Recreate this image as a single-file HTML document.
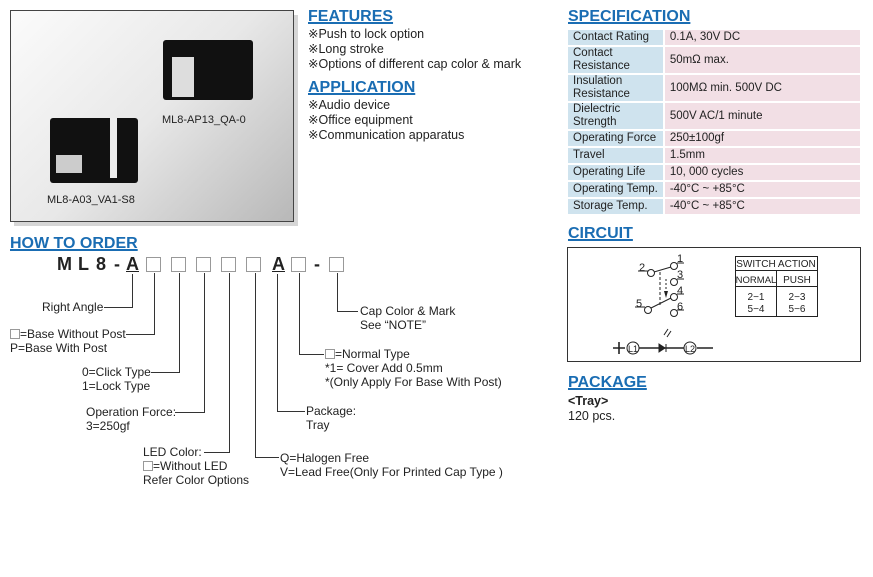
<!DOCTYPE html>
<html><head><meta charset="utf-8"><style>
*{margin:0;padding:0;box-sizing:border-box}
body{width:873px;height:577px;background:#fff;position:relative;font-family:"Liberation Sans",sans-serif;color:#222;overflow:hidden}
.a{position:absolute;white-space:nowrap}
.h{font-weight:bold;font-size:16px;color:#1a6db3;text-decoration:underline;text-decoration-thickness:2px;text-underline-offset:1px}
.t{font-size:12.5px;line-height:15px}
.s{font-size:12px;line-height:14px}
.bx{position:absolute;width:15px;height:15px;border:1px solid #999;background:#fff}
.sb{display:inline-block;width:10px;height:10px;border:1px solid #999;vertical-align:-1px}
.ln{position:absolute;background:#333}
.pn{position:absolute;top:254px;font-size:18px;font-weight:bold}
table{border-collapse:separate;border-spacing:0 2px;font-size:11.5px}
td{padding:0 5px;line-height:13px}
td.l{background:#cfe3ee;width:96px;border-right:2px solid #fff}
td.v{background:#f2dfe5;width:195px}
</style></head><body>
<div class="a" style="left:14px;top:15px;width:284px;height:211px;background:#d6d6d6"></div>
<div class="a" style="left:10px;top:10px;width:284px;height:212px;border:1px solid #444;background:linear-gradient(135deg,#fbfbfb 0%,#e8e8e8 50%,#b8b8b8 100%)"></div>
<div class="a" style="left:163px;top:40px;width:90px;height:60px;background:#111;border-radius:3px"></div>
<div class="a" style="left:172px;top:57px;width:22px;height:40px;background:#ddd"></div>
<div class="a" style="left:50px;top:118px;width:88px;height:65px;background:#111;border-radius:3px"></div>
<div class="a" style="left:56px;top:155px;width:26px;height:18px;background:#ccc"></div>
<div class="a" style="left:110px;top:118px;width:7px;height:60px;background:#eee"></div>
<div class="a s" style="left:162px;top:113px;font-size:11px">ML8-AP13_QA-0</div>
<div class="a s" style="left:47px;top:193px;font-size:11px">ML8-A03_VA1-S8</div>

<div class="a h" style="left:308px;top:8px">FEATURES</div>
<div class="a t" style="left:308px;top:27px">※Push to lock option<br>※Long stroke<br>※Options of different cap color &amp; mark</div>
<div class="a h" style="left:308px;top:79px">APPLICATION</div>
<div class="a t" style="left:308px;top:98px">※Audio device<br>※Office equipment<br>※Communication apparatus</div>

<div class="a h" style="left:568px;top:8px">SPECIFICATION</div>
<table class="a" style="left:568px;top:28px">
<tr style="height:15px"><td class="l">Contact Rating</td><td class="v">0.1A, 30V DC</td></tr>
<tr style="height:26px"><td class="l">Contact<br>Resistance</td><td class="v">50mΩ max.</td></tr>
<tr style="height:26px"><td class="l">Insulation<br>Resistance</td><td class="v">100MΩ min. 500V DC</td></tr>
<tr style="height:26px"><td class="l">Dielectric<br>Strength</td><td class="v">500V AC/1 minute</td></tr>
<tr style="height:15px"><td class="l">Operating Force</td><td class="v">250±100gf</td></tr>
<tr style="height:15px"><td class="l">Travel</td><td class="v">1.5mm</td></tr>
<tr style="height:15px"><td class="l">Operating Life</td><td class="v">10, 000 cycles</td></tr>
<tr style="height:15px"><td class="l">Operating Temp.</td><td class="v">-40°C ~ +85°C</td></tr>
<tr style="height:15px"><td class="l">Storage Temp.</td><td class="v">-40°C ~ +85°C</td></tr>
</table>

<div class="a h" style="left:568px;top:225px">CIRCUIT</div>
<svg class="a" style="left:567px;top:247px" width="294" height="115" font-family="Liberation Sans" font-size="11">
<rect x="0.5" y="0.5" width="293" height="114" fill="#fff" stroke="#333"/>
<g fill="#fff" stroke="#222" stroke-width="1">
<circle cx="84" cy="26" r="3.5"/><circle cx="107" cy="19" r="3.5"/><circle cx="107" cy="35" r="3.5"/>
<circle cx="81" cy="63" r="3.5"/><circle cx="107" cy="50" r="3.5"/><circle cx="107" cy="66" r="3.5"/>
<circle cx="66" cy="101" r="6"/><circle cx="123" cy="101" r="6"/>
</g>
<g stroke="#222" fill="none">
<path d="M87 25 L104 20 M84 61 L104 51 M71 24 H81 M68 60 H78 M110 16 H117 M110 32 H117 M110 47 H117 M110 63 H117"/>
<path d="M93 25 V60" stroke-dasharray="3,2"/>
<path d="M99 32 V45" stroke-dasharray="2,2"/>
<path d="M46 101 H58 M52 95 V107 M72 101 H117 M130 101 H146" stroke-width="1.6"/>
<path d="M97 88 L101 82 M100 90 L104 84"/>
</g>
<path d="M97 44 L99 51 L101 44 Z" fill="#222"/>
<path d="M92 97 V105 L98 101 Z M99 97 V105" fill="#222" stroke="#222"/>
<g fill="#222"><text x="72" y="24">2</text><text x="69" y="60">5</text><text x="110" y="15">1</text><text x="110" y="31">3</text><text x="110" y="47">4</text><text x="110" y="63">6</text>
<text x="61" y="105" font-size="9">L1</text><text x="118" y="105" font-size="9">L2</text></g>
<g stroke="#222" fill="none"><rect x="168.5" y="9.5" width="82" height="60"/><path d="M168.5 23.5 H250.5 M168.5 39.5 H250.5 M209.5 23.5 V69.5"/></g>
<g fill="#222" font-size="10" text-anchor="middle"><text x="209" y="20">SWITCH ACTION</text><text x="189" y="36" font-size="9.5">NORMAL</text><text x="230" y="36">PUSH</text>
<text x="189" y="53">2−1</text><text x="189" y="65">5−4</text><text x="230" y="53">2−3</text><text x="230" y="65">5−6</text></g>
</svg>

<div class="a h" style="left:568px;top:374px">PACKAGE</div>
<div class="a t" style="left:568px;top:394px"><b>&lt;Tray&gt;</b><br>120 pcs.</div>

<div class="a h" style="left:10px;top:235px">HOW TO ORDER</div>
<div class="pn" style="left:57px">M</div>
<div class="pn" style="left:78px">L</div>
<div class="pn" style="left:96px">8</div>
<div class="pn" style="left:114px">-</div>
<div class="pn" style="left:126px;text-decoration:underline">A</div>
<div class="bx" style="left:146px;top:257px"></div>
<div class="bx" style="left:171px;top:257px"></div>
<div class="bx" style="left:196px;top:257px"></div>
<div class="bx" style="left:221px;top:257px"></div>
<div class="bx" style="left:246px;top:257px"></div>
<div class="pn" style="left:272px;text-decoration:underline">A</div>
<div class="bx" style="left:291px;top:257px"></div>
<div class="pn" style="left:314px">-</div>
<div class="bx" style="left:329px;top:257px"></div>

<div class="ln" style="left:132px;top:274px;width:1px;height:34px"></div><div class="ln" style="left:104px;top:307px;width:29px;height:1px"></div>
<div class="ln" style="left:154px;top:273px;width:1px;height:62px"></div><div class="ln" style="left:126px;top:334px;width:29px;height:1px"></div>
<div class="ln" style="left:179px;top:273px;width:1px;height:100px"></div><div class="ln" style="left:151px;top:372px;width:29px;height:1px"></div>
<div class="ln" style="left:204px;top:273px;width:1px;height:140px"></div><div class="ln" style="left:175px;top:412px;width:30px;height:1px"></div>
<div class="ln" style="left:229px;top:273px;width:1px;height:180px"></div><div class="ln" style="left:204px;top:452px;width:26px;height:1px"></div>
<div class="ln" style="left:255px;top:273px;width:1px;height:185px"></div><div class="ln" style="left:255px;top:457px;width:24px;height:1px"></div>
<div class="ln" style="left:277px;top:274px;width:1px;height:138px"></div><div class="ln" style="left:277px;top:411px;width:28px;height:1px"></div>
<div class="ln" style="left:299px;top:273px;width:1px;height:82px"></div><div class="ln" style="left:299px;top:354px;width:25px;height:1px"></div>
<div class="ln" style="left:337px;top:273px;width:1px;height:39px"></div><div class="ln" style="left:337px;top:311px;width:21px;height:1px"></div>

<div class="a s" style="left:42px;top:300px">Right Angle</div>
<div class="a s" style="left:10px;top:327px"><span class="sb"></span>=Base Without Post<br>P=Base With Post</div>
<div class="a s" style="left:82px;top:365px">0=Click Type<br>1=Lock Type</div>
<div class="a s" style="left:86px;top:405px">Operation Force:<br>3=250gf</div>
<div class="a s" style="left:143px;top:445px">LED Color:<br><span class="sb"></span>=Without LED<br>Refer Color Options</div>
<div class="a s" style="left:280px;top:451px">Q=Halogen Free<br>V=Lead Free(Only For Printed Cap Type )</div>
<div class="a s" style="left:306px;top:404px">Package:<br>Tray</div>
<div class="a s" style="left:325px;top:347px"><span class="sb"></span>=Normal Type<br>*1= Cover Add 0.5mm<br>*(Only Apply For Base With Post)</div>
<div class="a s" style="left:360px;top:304px">Cap Color &amp; Mark<br>See “NOTE”</div>
</body></html>
